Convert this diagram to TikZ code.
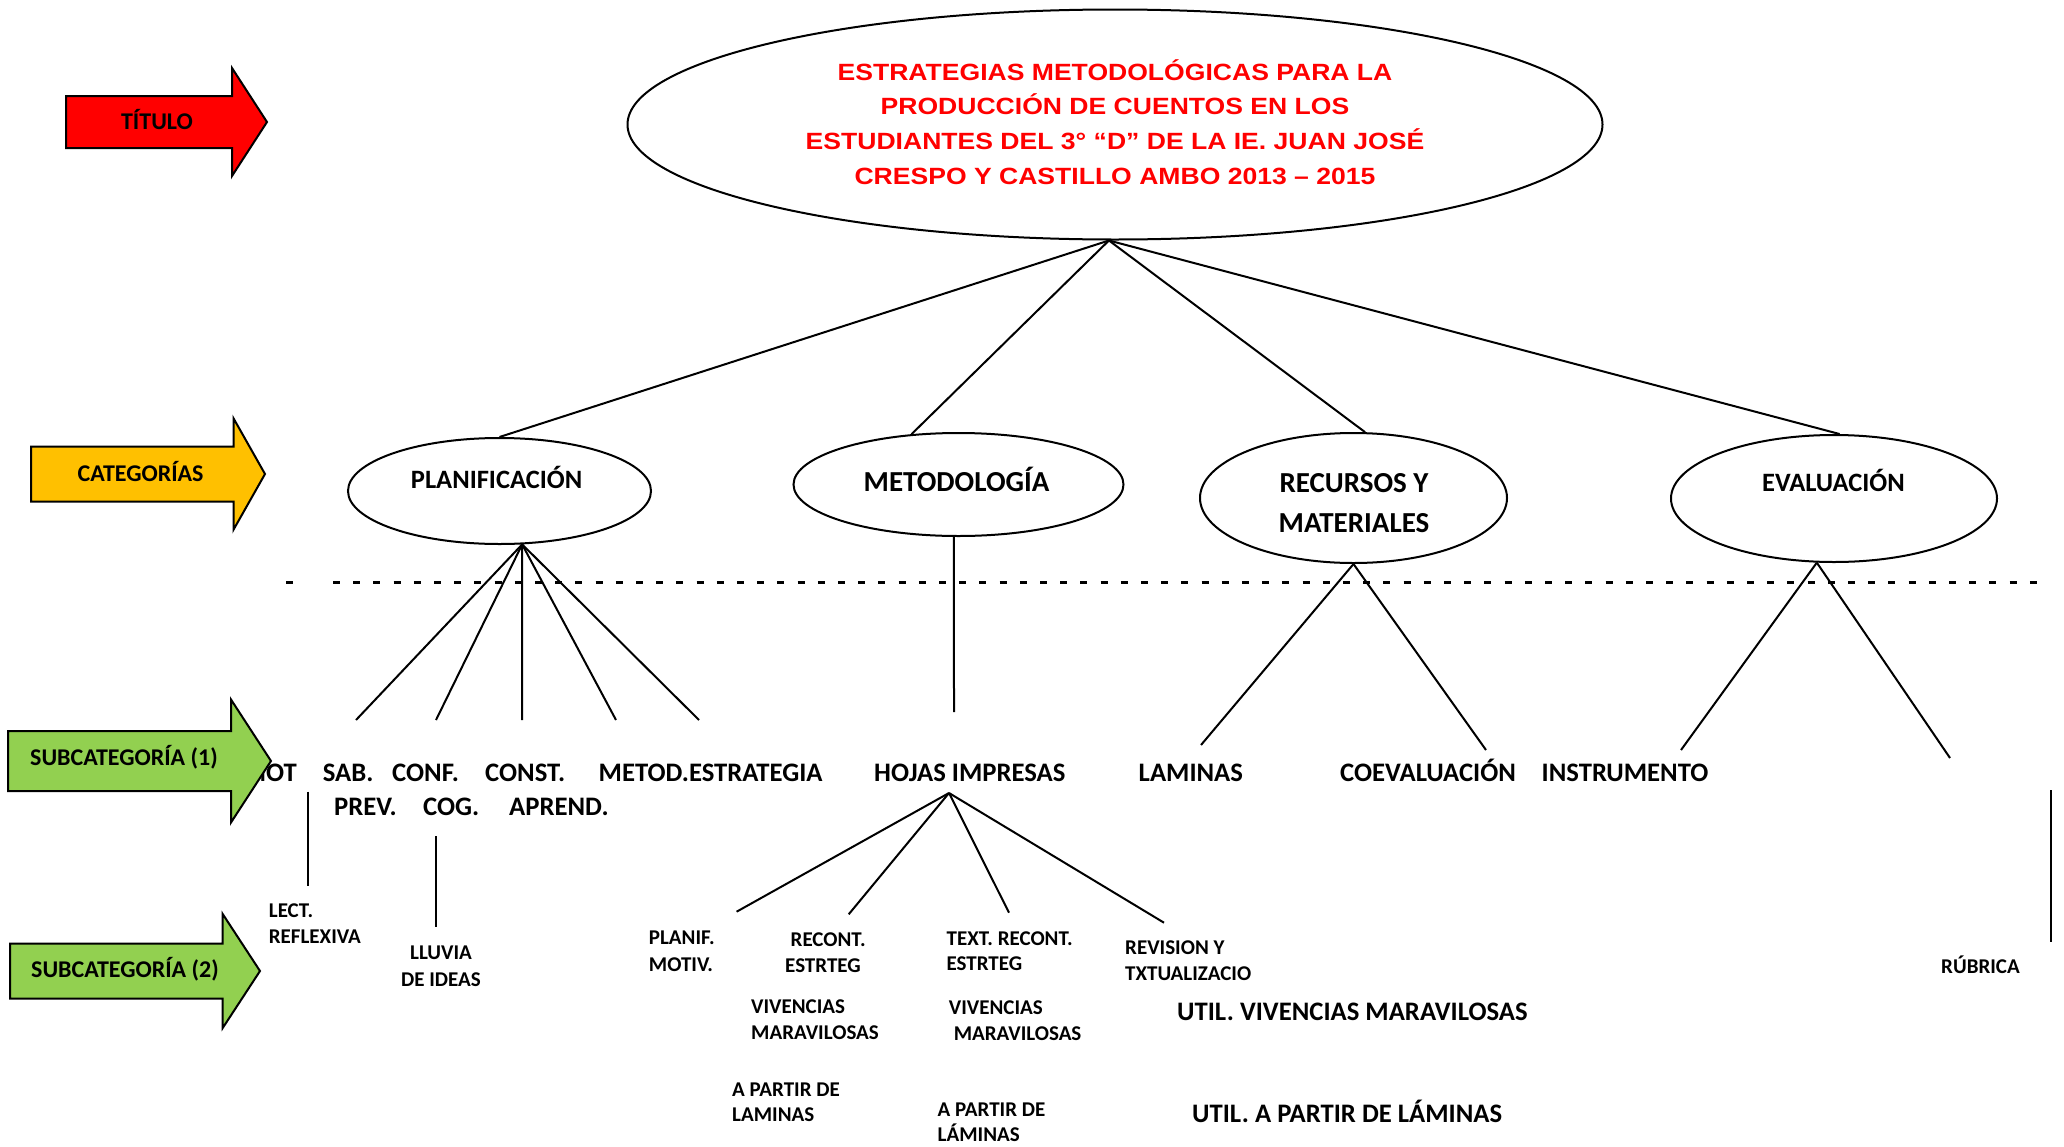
\documentclass[tikz,border=0pt]{standalone}
\usepackage{fontspec}
\setmainfont{Carlito}
\newfontfamily\titlefont{Liberation Sans}[FakeStretch=1.13]
\usetikzlibrary{shapes.geometric}

\definecolor{titlered}{HTML}{FF0000}
\definecolor{catgold}{HTML}{FFC000}
\definecolor{subgreen}{HTML}{92D050}

\tikzstyle{ovaldecorate}=[shape=ellipse,draw,line width=2pt,inner sep=0pt]
\tikzstyle{branch}=[draw,line width=2pt,-]
\tikzstyle{bannerdecorate}=[draw,line width=2pt,line join=miter]
\tikzstyle{bannertext}=[font=\fontsize{24}{29}\selectfont\bfseries,anchor=base,inner sep=0pt]
\tikzstyle{cattext}=[font=\fontsize{26.5}{32}\selectfont\bfseries,anchor=base,inner sep=0pt]
\tikzstyle{subone}=[font=\fontsize{26.7}{34}\selectfont\bfseries,anchor=base west,inner sep=0pt]
\tikzstyle{subtwo}=[font=\fontsize{21}{26}\selectfont\bfseries,anchor=base west,inner sep=0pt]

\begin{document}
\begin{tikzpicture}[x=1pt,y=-1pt]
      \useasboundingbox (0,0) rectangle (2064,1146);

      %% title and categories
      \node[ovaldecorate,minimum width=975,minimum height=230] (title) at (1115,124.5) {};
      \node[align=center,text=titlered,inner sep=0pt,
        font=\titlefont\bfseries\fontsize{23.5}{34.8}\selectfont] (titletext) at (1115,122)
        {ESTRATEGIAS METODOLÓGICAS PARA LA\\PRODUCCIÓN DE CUENTOS EN LOS\\ESTUDIANTES DEL 3° “D” DE LA IE. JUAN JOSÉ\\CRESPO Y CASTILLO AMBO 2013 – 2015};

      \foreach \nodename/\x/\y/\w/\h in {planif/499.5/491/303/106,
        metod/958.5/484.5/330/103, recursos/1353.5/498/307/130, eval/1834/498.5/326/127}
      {
        \node[ovaldecorate,minimum width=\w,minimum height=\h] (\nodename) at (\x,\y) {};
      }
      \node[cattext] (planiftext) at (496.6,488.2) {PLANIFICACIÓN};
      \node[cattext,font=\fontsize{29}{40}\selectfont\bfseries] (metodtext) at (956.6,491) {METODOLOGÍA};
      \node[cattext,font=\fontsize{29}{40}\selectfont\bfseries,anchor=center,align=center] (recursostext) at (1354,503) {RECURSOS Y\\MATERIALES};
      \node[cattext] (evaltext) at (1833.4,491.4) {EVALUACIÓN};

      \path
      \foreach \endnode in {planif.north, metod.133, recursos.80, eval.85}
      {
        (title.267) edge[branch] (\endnode)
      };

      %% dashed separator
      \draw[line width=3pt] (286,582.7) -- (293,582.7);
      \draw[line width=3pt,dash pattern=on 7pt off 13.2pt] (333,582.7) -- (2043,582.7);

      %% free ends of the branches
      \foreach \coordname/\x/\y in {pa/356/720, pb/436/720, pc/522/720, pd/616/720, pe/699/720,
        hojastop/954/712, ra/1201/745, rb/1486/750, ea/1681/750, eb/1950/758,
        hojasfoot/949/793, ha/736.6/911.7, hb/848.7/914.3, hc/1009/912.7, hd/1164/922.7,
        motfoot/307.7/791.7, lectlink/307.7/885.7, cogfoot/435.7/836, lluvialink/435.7/927,
        rubricatop/2051/790, rubricafoot/2051/942}
      {
        \coordinate (\coordname) at (\x,\y);
      }

      \path
      \foreach \startnode/\endnode in {planif.293/pa, planif.293/pb, planif.293/pc, planif.293/pd,
        planif.293/pe, metod.265/hojastop, recursos.south/ra, recursos.south/rb, eval.255/ea,
        eval.255/eb, hojasfoot/ha, hojasfoot/hb, hojasfoot/hc, hojasfoot/hd, motfoot/lectlink,
        cogfoot/lluvialink, rubricatop/rubricafoot}
      {
        (\startnode) edge[branch] (\endnode)
      };

      %% subcategories (1)
      \node[subone,anchor=base east] (mot) at (297,781) {MOT};
      \foreach \nodename/\x/\y/\word in {sab/322.6/781/SAB., prev/334/815/PREV.,
        conf/392/781/CONF., cog/423/815/COG., const/485/781/CONST., aprend/509/815/APREND.,
        metodest/598.5/781/METOD.ESTRATEGIA, hojas/874/781/HOJAS IMPRESAS,
        laminas/1138.5/781/LAMINAS, coev/1340/781/COEVALUACIÓN, instr/1541.5/781/INSTRUMENTO,
        utilviv/1177/1020/UTIL. VIVENCIAS MARAVILOSAS, utillam/1192/1122/UTIL. A PARTIR DE LÁMINAS}
      {
        \node[subone] (\nodename) at (\x,\y) {\word};
      }

      %% subcategories (2)
      \foreach \nodename/\x/\y/\word in {lect/268.7/917.3/LECT., reflex/268.7/943.3/REFLEXIVA,
        planifmot/648.7/944.6/PLANIF., motiv/648.7/971/MOTIV., recont/790.5/946.6/RECONT.,
        estrtega/785/972.3/ESTRTEG, textrec/946.4/945/TEXT. RECONT., estrtegb/946.4/970/ESTRTEG,
        revision/1125/954.3/REVISION Y, txtual/1125/980/TXTUALIZACIO,
        viva/751/1013.6/VIVENCIAS, marava/751/1039.3/MARAVILOSAS,
        vivb/948.7/1014.3/VIVENCIAS, maravb/953.6/1040/MARAVILOSAS,
        partira/732/1096/A PARTIR DE, lamina/732/1121.6/LAMINAS,
        partirb/937.5/1116.6/A PARTIR DE, laminb/937.5/1141.6/LÁMINAS, rubrica/1941/973.6/RÚBRICA}
      {
        \node[subtwo] (\nodename) at (\x,\y) {\word};
      }
      \node[subtwo,anchor=base] (lluvia) at (441,959.3) {LLUVIA};
      \node[subtwo,anchor=base] (deideas) at (441,986) {DE IDEAS};

      %% level banners
      \foreach \nodename/\colour/\xl/\xh/\xt/\yc/\bh/\hh/\xw/\yw/\word in {
        titulo/titlered/66/232/267/122/26/54/157/129.6/TÍTULO,
        categorias/catgold/31/233.5/265/474/27.5/55.7/140.6/481.6/CATEGORÍAS,
        subuno/subgreen/8/231/271/761/30/61.5/124/765.2/SUBCATEGORÍA (1),
        subdos/subgreen/10/222.7/260/971/27.5/57/125/977.7/SUBCATEGORÍA (2)}
      {
        \filldraw[bannerdecorate,fill=\colour] (\xl,\yc-\bh) -- (\xh,\yc-\bh) -- (\xh,\yc-\hh)
          -- (\xt,\yc) -- (\xh,\yc+\hh) -- (\xh,\yc+\bh) -- (\xl,\yc+\bh) -- cycle;
        \node[bannertext] (\nodename) at (\xw,\yw) {\word};
      }
\end{tikzpicture}
\end{document}
